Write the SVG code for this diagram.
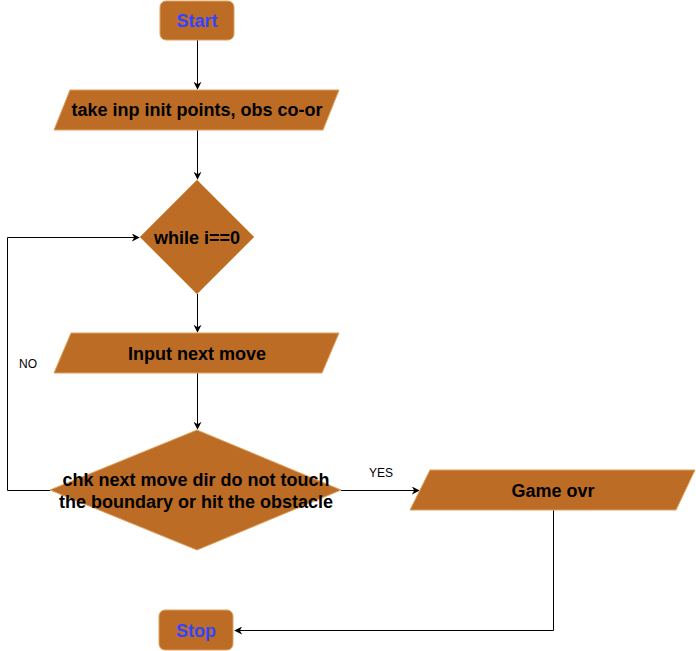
<svg xmlns="http://www.w3.org/2000/svg" width="696" height="651" viewBox="0 0 696 651">
<style>
.shape{fill:#BC6C25;stroke:#DDA15E;stroke-width:1}
.t{font-family:"Liberation Sans",Arial,sans-serif;font-weight:bold;font-size:18px;fill:#000;text-anchor:middle;dominant-baseline:central}
.b{fill:#3344FF}
.lbl{font-family:"Liberation Sans",Arial,sans-serif;font-size:12px;fill:#000;text-anchor:middle;dominant-baseline:central}
.c{fill:none;stroke:#000;stroke-width:1}
</style>
<defs>
<marker id="arr" viewBox="0 0 10 10" refX="9" refY="5" markerWidth="8" markerHeight="8" markerUnits="userSpaceOnUse" orient="auto">
<path d="M0,0 L10,5 L0,10 L3,5 Z" fill="#000"/>
</marker>
</defs>
<rect width="696" height="651" fill="#fff"/>
<g id="connectors">
<path class="c" d="M197.5,40 V89" marker-end="url(#arr)"/>
<path class="c" d="M197.5,130 V179" marker-end="url(#arr)"/>
<path class="c" d="M197.5,294 V332" marker-end="url(#arr)"/>
<path class="c" d="M197.5,373 V429" marker-end="url(#arr)"/>
<path class="c" d="M341,490.5 H419" marker-end="url(#arr)"/>
<path class="c" d="M553.5,510 V630.5 H235" marker-end="url(#arr)"/>
<path class="c" d="M50,490.5 H7.5 V237.5 H139" marker-end="url(#arr)"/>
<text class="lbl" x="381" y="473">YES</text>
<text class="lbl" x="28" y="364">NO</text>
</g>
<g id="start">
<rect class="shape" x="160" y="1" width="74" height="39" rx="6"/>
<text class="t b" x="197" y="21">Start</text>
</g>
<g id="input1">
<polygon class="shape" points="70,90 339,90 323,130 54,130"/>
<text class="t" x="197" y="110">take inp init points, obs co-or</text>
</g>
<g id="while">
<polygon class="shape" points="197,180 254,237 197,294 140,237"/>
<text class="t" x="197" y="238">while i==0</text>
</g>
<g id="input2">
<polygon class="shape" points="71,333 339,333 322,373 54,373"/>
<text class="t" x="197" y="354">Input next move</text>
</g>
<g id="check">
<polygon class="shape" points="197,430 341,490 197,550 50,490"/>
<text class="t" x="196" y="480" textLength="267" lengthAdjust="spacingAndGlyphs">chk next move dir do not touch</text>
<text class="t" x="196" y="502" textLength="274" lengthAdjust="spacingAndGlyphs">the boundary or hit the obstacle</text>
</g>
<g id="gameover">
<polygon class="shape" points="430,470 695,470 676,510 410,510"/>
<text class="t" x="553" y="491">Game ovr</text>
</g>
<g id="stop">
<rect class="shape" x="159" y="610" width="74" height="40" rx="6"/>
<text class="t b" x="196" y="631">Stop</text>
</g>
</svg>
